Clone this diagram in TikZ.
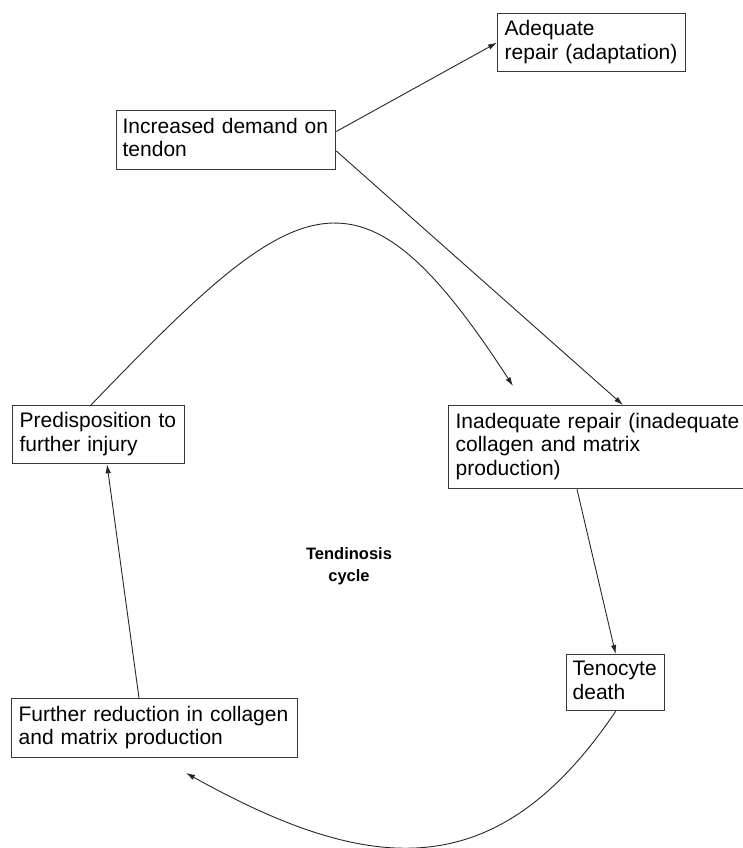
\documentclass[tikz,border=0pt]{standalone}
\usepackage{fontspec}
\setmainfont{Liberation Sans}
\usetikzlibrary{arrows.meta,calc}
\begin{document}
\begin{tikzpicture}[x=1pt,y=-1pt,
  box/.style={draw=black!78, line width=1.3pt, anchor=north west, align=left,
    inner xsep=7pt, inner ysep=0pt, font=\fontsize{21}{23.5}\selectfont},
  conn/.style={draw=black!85, line width=0.9pt, -{Latex[length=9pt,width=5.5pt]}},
  cyclelabel/.style={font=\bfseries\fontsize{16.5}{22}\selectfont, align=center}
]
\useasboundingbox (0,0) rectangle (742,848);
\node[box, text width=174pt, minimum height=58pt] (adq) at (497,13) {\strut\mbox{Adequate}\\\mbox{repair (adaptation)}\strut};
\node[box, text width=207pt, inner xsep=6pt, minimum height=59pt] (inc) at (116,110) {\strut\mbox{Increased demand on}\\tendon\strut};
\node[box, text width=158pt, minimum height=58pt] (pre) at (12,405) {\strut\mbox{Predisposition to}\\\mbox{further injury}\strut};
\node[box, text width=330pt, minimum height=83pt] (ina) at (448,405) {\strut\mbox{Inadequate repair (inadequate}\\\mbox{collagen and matrix}\\production)\strut};
\node[box, text width=86pt, inner xsep=6pt, minimum height=56pt] (teno) at (566,654) {\strut\mbox{Tenocyte}\\death\strut};
\node[box, text width=272pt, minimum height=59pt] (fur) at (11,698) {\strut\mbox{Further reduction in collagen}\\\mbox{and matrix production}\strut};
\node[cyclelabel] (tc) at (349,566) {Tendinosis\\cycle};

\coordinate (topend) at (513,386);
\coordinate (botend) at (186,773);

\draw[conn] ($(inc.north east)!0.356!(inc.south east)$) -- (adq.west);
\draw[conn] ($(inc.north east)!0.68!(inc.south east)$) -- ($(ina.north west)+(175,0)$);
\draw[conn] ($(ina.south west)+(129,0)$) -- (teno.north);
\draw[conn] ($(fur.north west)+(128,0)$) -- ($(pre.south west)+(95,0)$);
\draw[conn] ($(pre.north west)+(79,0)$) .. controls (299,189) and (358,147) .. (topend);
\draw[conn] (teno.south) .. controls (497,887) and (371,876) .. (botend);
\end{tikzpicture}
\end{document}
